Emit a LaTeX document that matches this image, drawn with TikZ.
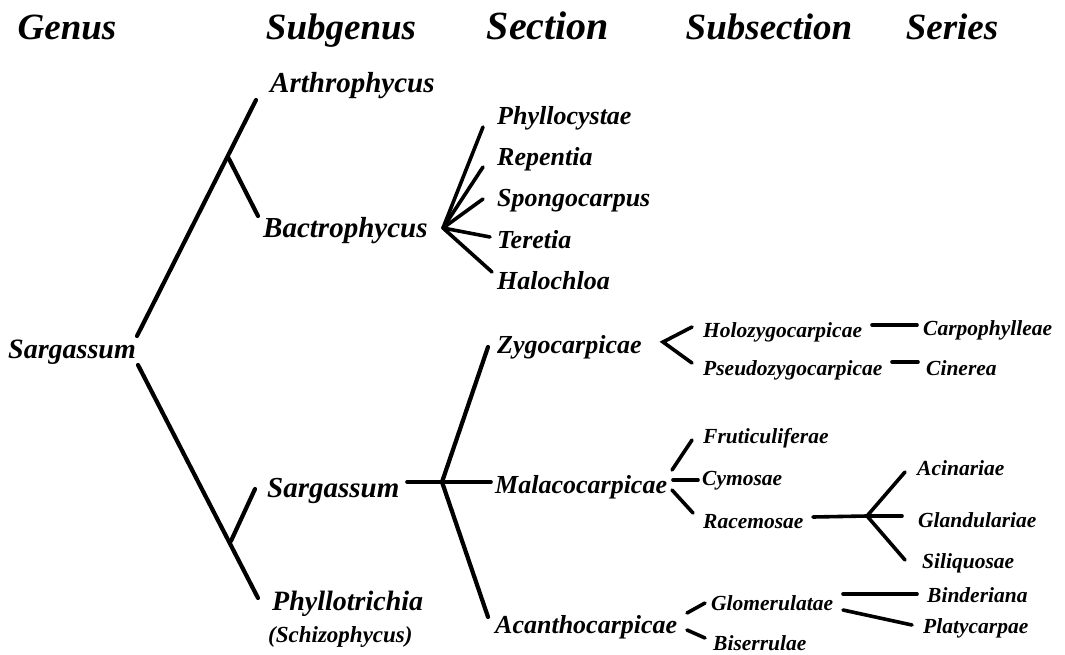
\documentclass[tikz,border=0pt]{standalone}
\usepackage{fontspec}
\setmainfont{Liberation Serif}

\tikzset{
	head/.style={font=\fontsize{37}{40}\selectfont\bfseries\itshape, inner sep=0pt, anchor=base},
	subgen/.style={font=\fontsize{29}{31}\selectfont\bfseries\itshape, inner sep=0pt, anchor=base west},
	sect/.style={font=\fontsize{26}{28}\selectfont\bfseries\itshape, inner sep=0pt, anchor=base west},
	subsect/.style={font=\fontsize{21.5}{24}\selectfont\bfseries\itshape, inner sep=0pt, anchor=base west},
	branch/.style={line width=4.2pt, line cap=round},
	twig/.style={line width=3.6pt, line cap=round}
}

\begin{document}
\begin{tikzpicture}[x=1pt,y=-1pt]
		\useasboundingbox (0,0) rectangle (1065,655);
		
		% column heads
		\node[head] (hgen) at (67,40) {Genus};
		\node[head] (hsub) at (341,40) {Subgenus};
		\node[head, font=\fontsize{40}{42}\selectfont\bfseries\itshape] (hsec) at (548,40) {Section};
		\node[head] (hsubsec) at (769,40) {Subsection};
		\node[head] (hser) at (952,40) {Series};
		
		% genus and subgenera
		\node[subgen, font=\fontsize{28}{30}\selectfont\bfseries\itshape] (sarg) at (8,358) {Sargassum};
		\node[subgen] (arthro) at (270,93) {Arthrophycus};
		\node[subgen] (bactro) at (263,237) {Bactrophycus};
		\node[subgen] (sargsub) at (267,497) {Sargassum};
		\node[subgen, font=\fontsize{28}{30}\selectfont\bfseries\itshape] (phyllo) at (272,610) {Phyllotrichia};
		\node[font=\fontsize{23}{25}\selectfont\bfseries\itshape, inner sep=0pt, anchor=base west] (schizo) at (268,642) {(Schizophycus)};
		
		\coordinate (G1) at (137,336);
		\coordinate (A1) at (256,100);
		\coordinate (J1) at (228,157);
		\coordinate (B1) at (258,216);
		\coordinate (G2) at (138,365);
		\coordinate (P1) at (258,598);
		\coordinate (J2) at (231,541);
		\coordinate (S1) at (255,489);
		\draw[branch] (G1)--(A1);
		\draw[branch] (J1)--(B1);
		\draw[branch] (G2)--(P1);
		\draw[branch] (J2)--(S1);
		
		% sections of Bactrophycus
		\node[sect] (phyllocy) at (497,125) {Phyllocystae};
		\node[sect] (repent) at (497,166) {Repentia};
		\node[sect] (spongo) at (497,207) {Spongocarpus};
		\node[sect] (teret) at (497,248) {Teretia};
		\node[sect] (haloch) at (497,289) {Halochloa};
		\coordinate (F0) at (443,228);
		\coordinate (F1) at (483,127);
		\coordinate (F2) at (483,167);
		\coordinate (F3) at (483,199);
		\coordinate (F4) at (490,237);
		\coordinate (F5) at (492,272);
		\foreach \e in {F1,F2,F3,F4,F5}
			\draw[twig] (F0)--(\e);
		
		% sections of Sargassum
		\node[sect] (zygo) at (497,353) {Zygocarpicae};
		\node[sect] (malaco) at (495,493) {Malacocarpicae};
		\node[sect] (acantho) at (495,633) {Acanthocarpicae};
		\coordinate (M0) at (407,482);
		\coordinate (M1) at (442,482);
		\coordinate (M2) at (491,482);
		\coordinate (Z1) at (488,347);
		\coordinate (C1) at (488,617);
		\draw[twig] (M0)--(M2);
		\draw[branch] (M1)--(Z1);
		\draw[branch] (M1)--(C1);
		
		% subsections
		\node[subsect] (holo) at (703,337) {Holozygocarpicae};
		\node[subsect] (pseudo) at (703,375) {Pseudozygocarpicae};
		\node[subsect] (fruti) at (703,443) {Fruticuliferae};
		\node[subsect] (cymo) at (702,485) {Cymosae};
		\node[subsect] (racem) at (703,528) {Racemosae};
		\node[subsect] (glomer) at (711,610) {Glomerulatae};
		\node[subsect] (biserr) at (713,650) {Biserrulae};
		\coordinate (Z0) at (663,342);
		\draw[twig] (692,327)--(Z0)--(692,363);
		\draw[twig] (672,470)--(692,440);
		\draw[twig] (673,480)--(698,480);
		\draw[twig] (672,490)--(693,513);
		\draw[twig] (687,613)--(705,603);
		\draw[twig] (687,630)--(705,638);
		
		% series
		\node[subsect] (carpo) at (923,335) {Carpophylleae};
		\node[subsect] (ciner) at (926,375) {Cinerea};
		\node[subsect] (acin) at (917,475) {Acinariae};
		\node[subsect] (gland) at (918,527) {Glandulariae};
		\node[subsect] (siliq) at (922,568) {Siliquosae};
		\node[subsect] (binder) at (927,602) {Binderiana};
		\node[subsect] (platy) at (923,633) {Platycarpae};
		\draw[twig] (872,325)--(917,325);
		\draw[twig] (892,362)--(918,362);
		\coordinate (R0) at (867,516);
		\draw[twig] (813,517)--(R0);
		\draw[twig] (R0)--(905,472);
		\draw[twig] (R0)--(902,516);
		\draw[twig] (R0)--(905,560);
		\draw[twig] (843,594)--(917,594);
		\draw[twig] (843,610)--(912,625);
		
	\end{tikzpicture}
\end{document}
